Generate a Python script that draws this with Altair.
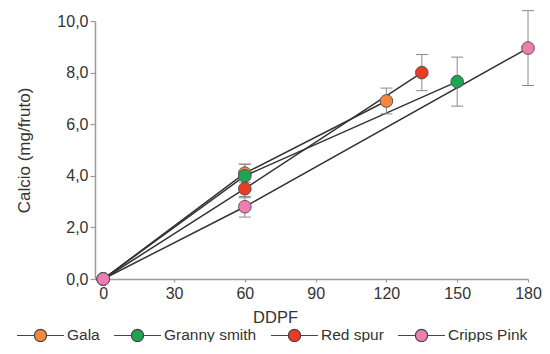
import altair as alt
import pandas as pd

series = ["Gala", "Granny smith", "Red spur", "Cripps Pink"]
colors = ["#F5873F", "#1CA64F", "#EC3B25", "#F07DB0"]

gala_days = [0, 60, 120]
gala_ca = [0.0, 4.1, 6.9]
gala_err = [0.0, 0.35, 0.5]

granny_days = [0, 60, 150]
granny_ca = [0.0, 4.0, 7.65]
granny_err = [0.0, 0.45, 0.95]

red_days = [0, 60, 135]
red_ca = [0.0, 3.5, 8.0]
red_err = [0.0, 0.35, 0.7]

pink_days = [0, 60, 180]
pink_ca = [0.0, 2.8, 8.95]
pink_err = [0.0, 0.4, 1.45]

x_ticks = [0, 30, 60, 90, 120, 150, 180]
y_ticks = [0, 2, 4, 6, 8, 10]

rows = []
for name, d, c, e in [
    ("Gala", gala_days, gala_ca, gala_err),
    ("Granny smith", granny_days, granny_ca, granny_err),
    ("Red spur", red_days, red_ca, red_err),
    ("Cripps Pink", pink_days, pink_ca, pink_err),
]:
    for i, (dd, cc, ee) in enumerate(zip(d, c, e)):
        rows.append({"serie": name, "ddpf": dd, "ca": cc, "lo": cc - ee, "hi": cc + ee, "ord": i})
df = pd.DataFrame(rows)
df_err = df[df["hi"] > df["lo"]]

FONT = "Liberation Sans"

x_scale = alt.Scale(domain=[-3.5, 180], nice=False, zero=False, padding=0)
y_scale = alt.Scale(domain=[0, 10], nice=False)

x_axis = alt.Axis(
    values=x_ticks, title="DDPF", tickSize=3, labelPadding=3, labelFlush=False,
    titleX=180, titleY=30, titleBaseline="top", titleAlign="center", titleFontSize=16.5,
)
y_axis = alt.Axis(
    values=y_ticks, title="Calcio (mg/fruto)", tickSize=5, labelPadding=2,
    labelExpr="replace(format(datum.value, '.1f'), '.', ',')",
    titleX=-62, titleY=129, titleAngle=-90, titleBaseline="bottom", titleAlign="center",
    titleFontSize=17,
)

base = alt.Chart(df)

lines = base.mark_line(color="#333333", strokeWidth=1.5).encode(
    x=alt.X("ddpf:Q", scale=x_scale, axis=x_axis),
    y=alt.Y("ca:Q", scale=y_scale, axis=y_axis),
    detail="serie:N",
    order="ord:Q",
)

err_rule = alt.Chart(df_err).mark_rule(color="#8a8a8a", strokeWidth=1).encode(
    x="ddpf:Q", y="lo:Q", y2="hi:Q"
)
cap_lo = alt.Chart(df_err).mark_rule(color="#8a8a8a", strokeWidth=1, xOffset=-6, x2Offset=6).encode(
    x="ddpf:Q", x2="ddpf:Q", y="lo:Q"
)
cap_hi = alt.Chart(df_err).mark_rule(color="#8a8a8a", strokeWidth=1, xOffset=-6, x2Offset=6).encode(
    x="ddpf:Q", x2="ddpf:Q", y="hi:Q"
)

sym = "M-1,0H-0.26M0.26,0H1M-0.26,0A0.26,0.26,0,1,1,0.26,0A0.26,0.26,0,1,1,-0.26,0Z"

points = base.mark_point(filled=True, size=160, stroke="#555555", strokeWidth=1, opacity=1).encode(
    x="ddpf:Q",
    y="ca:Q",
    fill=alt.Fill(
        "serie:N",
        scale=alt.Scale(domain=series, range=colors),
        sort=series,
        legend=alt.Legend(
            title=None, orient="none", legendX=-79, legendY=289.5,
            direction="horizontal", columns=4, symbolType=sym, symbolSize=2209,
            symbolStrokeColor="#444444", symbolStrokeWidth=1.2, symbolOpacity=1,
            labelFontSize=15.5, labelColor="#333333", labelOffset=2, columnPadding=11,
            padding=0, labelFont=FONT,
        ),
    ),
)

chart = (
    alt.layer(lines, err_rule, cap_lo, cap_hi, points)
    .properties(
        width=433, height=258,
        autosize=alt.AutoSizeParams(type="none"),
        padding={"left": 87, "top": 13, "right": 14, "bottom": 63},
    )
    .configure_view(stroke=None)
    .configure_axis(
        grid=False, domainColor="#9a9a9a", domainWidth=1.5, tickColor="#9a9a9a", tickWidth=1.2,
        labelFont=FONT, labelFontSize=16, labelColor="#333333",
        titleFont=FONT, titleFontSize=16, titleFontWeight="normal", titleColor="#333333",
    )
    .configure_legend(labelFont=FONT)
)

chart.save("out.html", embed_options={"renderer": "svg", "actions": False})
